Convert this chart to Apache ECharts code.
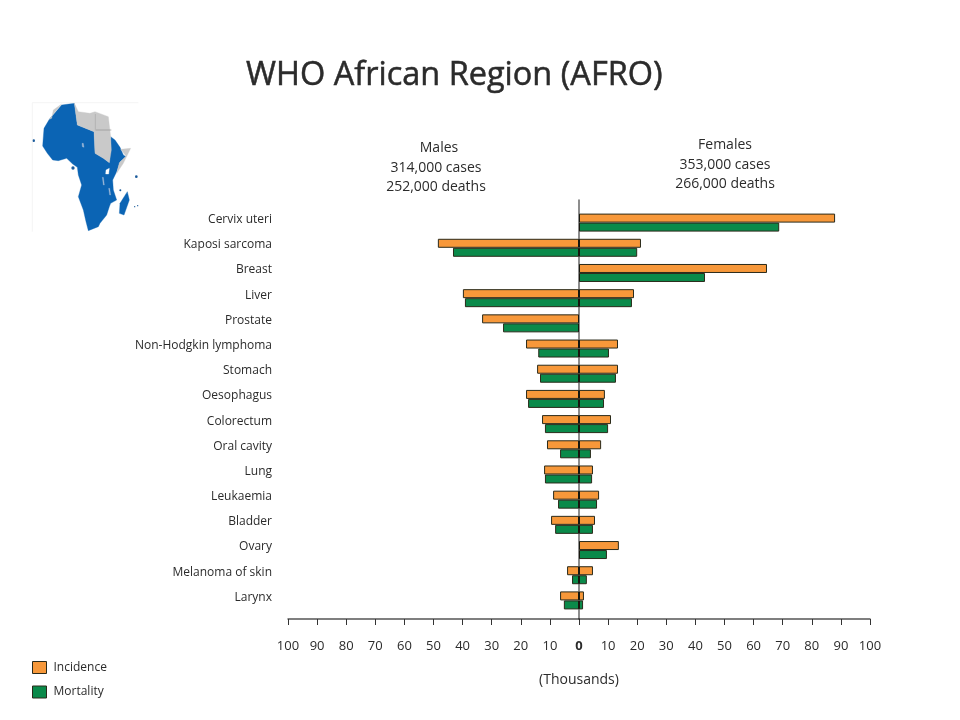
<!DOCTYPE html>
<html>
<head>
<meta charset="utf-8">
<style>html,body{margin:0;padding:0;background:#fff}#c{width:960px;height:720px}</style>
<script src="https://cdn.jsdelivr.net/npm/echarts@6/dist/echarts.min.js"></script>
</head>
<body>
<div id="c"></div>
<script>
const categories = ['Cervix uteri','Kaposi sarcoma','Breast','Liver','Prostate','Non-Hodgkin lymphoma','Stomach','Oesophagus','Colorectum','Oral cavity','Lung','Leukaemia','Bladder','Ovary','Melanoma of skin','Larynx'];
const maleIncidence   = [null,48.5,null,39.9,33.3,18.2,14.4,18.2,12.7,11,12,8.9,9.6,null,4.1,6.5];
const maleMortality   = [null,43.3,null,39.2,26.1,14,13.4,17.5,11.7,6.5,11.7,7.2,8.2,null,2.4,5.2];
const femaleIncidence = [88,21.3,64.6,18.9,null,13.4,13.4,8.9,11,7.6,4.8,6.9,5.5,13.7,4.8,1.7];
const femaleMortality = [68.8,20,43.3,18.2,null,10.3,12.7,8.6,10,4.1,4.5,6.2,4.8,9.6,2.7,1.4];

const ORANGE = '#f7983a', GREEN = '#0a8a4a', BLUE = '#0b64b4', GREY = '#c9c9c9', FONT = '"Open Sans","Noto Sans",sans-serif';
const neg = a => a.map(v => v == null ? null : -v);
const bar = (name, stack, color, data) => ({
  type: 'bar', name, stack, data, barWidth: 9, barGap: 0, barCategoryGap: 0, xAxisIndex: 0, yAxisIndex: 0, silent: true,
  itemStyle: {color, borderColor: '#2a2a1a', borderWidth: 1}
});
const text = (cx, y, t, size) => ({type: 'text', x: cx, y, style: {text: t, font: `${size}px ${FONT}`, fill: '#2b2b2b', textAlign: 'center', textVerticalAlign: 'middle'}});
const poly = (points, fill) => ({type: 'polygon', shape: {points}, style: {fill, stroke: fill, lineWidth: 1}});
const dot = (cx, cy, r) => ({type: 'circle', shape: {cx, cy, r}, style: {fill: '#1c5c9c'}});
const mapShapes = [
  poly([[125,45],[163,40],[172,105],[222,125],[225,190],[250,205],[268,218],[272,140],[285,150],[300,172],[310,195],[318,200],[300,215],[290,245],[278,270],[280,300],[290,330],[272,340],[268,350],[260,375],[240,400],[235,410],[205,422],[198,395],[190,360],[175,320],[185,285],[175,255],[172,232],[158,222],[140,205],[115,212],[98,210],[82,190],[68,168],[70,140],[72,115],[88,88]], BLUE),
  poly([[95,85],[100,60],[125,42],[88,88]], GREY),
  poly([[163,40],[175,65],[210,70],[225,65],[265,80],[272,140],[274,180],[268,218],[250,205],[225,190],[222,125],[172,105]], GREY),
  poly([[302,178],[332,175],[310,220],[290,250],[298,218],[318,198]], GREY),
  poly([[322,305],[328,330],[312,375],[298,370],[300,340]], BLUE),
  poly([[258,240],[268,235],[266,252],[257,252]], '#ffffff'),
  poly([[247,262],[250,262],[253,285],[250,285]], '#9db8d8'),
  poly([[266,295],[269,295],[272,315],[269,315]], '#9db8d8'),
  poly([[186,160],[190,160],[192,172],[187,170]], '#9db8d8'),
  dot(41,152,4), dot(159,234,5), dot(349,260,4), dot(301,301,3), dot(344,350,2), dot(353,347,2),
  {type: 'line', shape: {x1: 37, y1: 38, x2: 355, y2: 38}, style: {stroke: '#eeeeee', lineWidth: 2}},
  {type: 'line', shape: {x1: 37, y1: 38, x2: 37, y2: 425}, style: {stroke: '#eeeeee', lineWidth: 2}},
  {type: 'line', shape: {x1: 228, y1: 120, x2: 274, y2: 120}, style: {stroke: '#8f8f8f', lineWidth: 2}},
  {type: 'line', shape: {x1: 226, y1: 72, x2: 226, y2: 122}, style: {stroke: '#a8a8a8', lineWidth: 2}}
];

const chart = echarts.init(document.getElementById('c'), null, {renderer: 'canvas'});
chart.setOption({
  backgroundColor: '#fff',
  animation: false,
  title: {text: 'WHO African Region (AFRO)', left: 241, top: 54, textStyle: {fontFamily: FONT, fontWeight: 'normal', fontSize: 32.5, color: '#2b2b2b', textBorderColor: '#2b2b2b', textBorderWidth: 0.5}},
  legend: {
    left: 32, top: 661, padding: 0, orient: 'vertical', itemWidth: 14, itemHeight: 12, itemGap: 11.5, selectedMode: false, icon: 'rect',
    itemStyle: {borderWidth: 1, borderColor: '#2a2a1a'},
    data: ['Incidence', 'Mortality'], textStyle: {fontFamily: FONT, fontSize: 12, color: '#2b2b2b', padding: [0, 0, 0, 2]}
  },
  grid: [
    {left: 288, width: 582, top: 210, height: 403},
    {left: 288, width: 582, top: 200, height: 419}
  ],
  xAxis: [
    {gridIndex: 0, type: 'value', min: -100, max: 100, interval: 10, show: false},
    {gridIndex: 1, type: 'value', min: -100, max: 100, interval: 10,
     axisLine: {show: true, lineStyle: {color: '#555', width: 1.5}},
     axisTick: {show: true, length: 6, lineStyle: {color: '#333'}},
     splitLine: {show: false},
     axisLabel: {margin: 21, fontFamily: FONT, fontSize: 13, color: '#2b2b2b',
       formatter: v => v === 0 ? '{b|0}' : String(Math.abs(v)),
       rich: {b: {fontFamily: FONT, fontSize: 13, fontWeight: 'bold', color: '#2b2b2b'}}},
     name: '(Thousands)', nameLocation: 'middle', nameGap: 54, nameTextStyle: {fontFamily: FONT, fontSize: 14, color: '#2b2b2b'}}
  ],
  yAxis: [
    {gridIndex: 0, type: 'category', inverse: true, data: categories,
     axisLine: {show: false, onZero: false}, axisTick: {show: false},
     axisLabel: {margin: 16, formatter: v => `{a|${v}}`,
       rich: {a: {fontFamily: FONT, fontSize: 12, color: '#2b2b2b', padding: [0, 0, 6, 0]}}}},
    {gridIndex: 1, type: 'value', min: 0, max: 1, z: 5,
     axisLine: {show: true, onZero: true, lineStyle: {color: 'rgba(0,0,0,0.6)', width: 1.5}},
     axisTick: {show: false}, axisLabel: {show: false}, splitLine: {show: false}}
  ],
  series: [
    bar('Incidence', 'inc', ORANGE, neg(maleIncidence)),
    bar('Incidence', 'inc', ORANGE, femaleIncidence),
    bar('Mortality', 'mort', GREEN, neg(maleMortality)),
    bar('Mortality', 'mort', GREEN, femaleMortality)
  ],
  graphic: [
    text(439, 148, 'Males', 14), text(436, 168, '314,000 cases', 14), text(436, 187, '252,000 deaths', 14),
    text(725, 145, 'Females', 14), text(725, 165, '353,000 cases', 14), text(725, 184, '266,000 deaths', 14),
    {type: 'group', x: 20, y: 90, scaleX: 1/3, scaleY: 1/3, children: mapShapes}
  ]
});
</script>
</body>
</html>
